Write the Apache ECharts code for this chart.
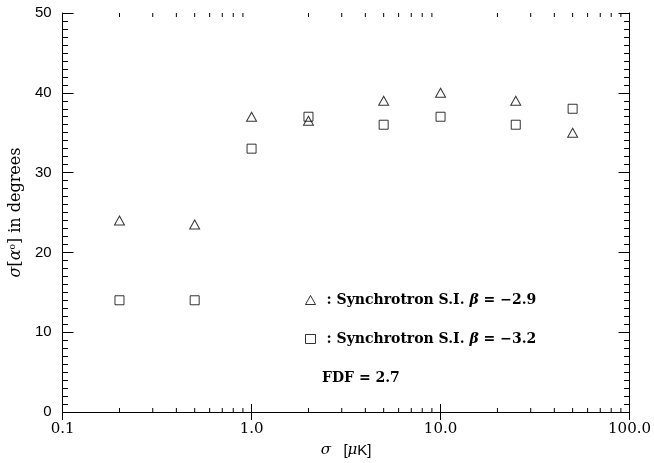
<!DOCTYPE html>
<html>
<head>
<meta charset="utf-8">
<script src="https://cdn.jsdelivr.net/npm/echarts@6/dist/echarts.min.js"></script>
<style>html,body{margin:0;padding:0;background:#fff;}#c{width:654px;height:463px;}</style>
</head>
<body>
<div id="c"></div>
<script>
// ---- data ----
const sigmaNoise = [0.2, 0.5, 1, 2, 5, 10, 25, 50];
const synchBeta29 = [24, 23.5, 37, 36.5, 39, 40, 39, 35];
const synchBeta32 = [14, 14, 33, 37, 36, 37, 36, 38];
const xMinorTicks = [0.2,0.3,0.4,0.5,0.6,0.7,0.8,0.9, 2,3,4,5,6,7,8,9, 20,30,40,50,60,70,80,90];
const xTickLabels = {'0.1':'0.1','1':'1.0','10':'10.0','100':'100.0'};
const yMin = 0, yMax = 50, yStep = 10;
const legendNames = [': Synchrotron S.I. {b|β} = \u22122.9', ': Synchrotron S.I. {b|β} = \u22123.2'];
const fdfText = 'FDF = 2.7';

const chart = echarts.init(document.getElementById('c'), null, {renderer:'canvas'});
const serif = 'DejaVu Serif';
const sans = 'Liberation Sans';
const line = {show:true, lineStyle:{color:'#000', width:1}};

function xAxisBase(pos, showLabel){
  return {
    type:'log', logBase:10, min:0.1, max:100, position:pos,
    axisLine: line,
    axisTick:{show:true, inside:true, length:8, lineStyle:{color:'#000'}},
    minorTick:{show:false},
    splitLine:{show:false},
    axisLabel:{show:showLabel, margin:10, color:'#000', fontFamily:serif, fontSize:15,
      formatter: v => xTickLabels[String(+v.toPrecision(6))] || ''}
  };
}
function yAxisBase(pos, showLabel){
  return {
    type:'value', min:yMin, max:yMax, interval:yStep, position:pos,
    axisLine: line,
    axisTick:{show:true, inside:true, length:11, lineStyle:{color:'#000'}},
    minorTick:{show:true, splitNumber:10, length:5.5, lineStyle:{color:'#000'}},
    splitLine:{show:false},
    axisLabel:{show:showLabel, margin:11, color:'#000', fontFamily:sans, fontSize:15}
  };
}

const xb = xAxisBase('bottom', true);
xb.name = '{i|σ}   [{m|μ}K]';
xb.nameLocation = 'middle';
xb.nameGap = 31;
xb.nameTextStyle = {color:'#000', fontFamily:sans, fontSize:15,
  rich:{i:{fontFamily:serif, fontStyle:'italic', fontSize:15, color:'#000'}, m:{fontFamily:serif, fontStyle:'italic', fontSize:15, color:'#000'}}};
const xt = xAxisBase('top', false);

const yl = yAxisBase('left', true);
yl.name = '{i|σ}[{i|α}{s|o}] in degrees';
yl.nameLocation = 'middle';
yl.nameGap = 30;
yl.nameTextStyle = {color:'#000', fontFamily:serif, fontSize:16,
  rich:{i:{fontFamily:serif, fontStyle:'italic', fontSize:16, color:'#000'}, s:{fontFamily:serif, fontSize:9, verticalAlign:'top', color:'#000'}}};
const yr = yAxisBase('right', false);

const option = {
  animation:false,
  backgroundColor:'#fff',
  grid:{left:56, right:22, top:13, bottom:43, containLabel:false},
  xAxis:[xb, xt],
  yAxis:[yl, yr],
  legend:{
    left:300, top:288, orient:'vertical', itemGap:25, itemWidth:10, itemHeight:9,
    selectedMode:false,
    itemStyle:{borderWidth:1, borderColor:'#000', color:'rgba(255,255,255,0)'},
    textStyle:{color:'#000', fontFamily:serif, fontSize:14, fontWeight:'bold', padding:[0,0,0,6],
      rich:{b:{fontFamily:serif, fontStyle:'italic', fontWeight:'bold', fontSize:14, color:'#000'}}},
    data:[{name:legendNames[0], icon:'triangle'}, {name:legendNames[1], icon:'rect'}]
  },
  graphic:[{type:'text', left:322, top:371, style:{text:fdfText, fill:'#000', font:'bold 14px "DejaVu Serif"'}}],
  series:[
    {name:legendNames[0], type:'scatter', symbol:'triangle', symbolSize:[10,9],
      itemStyle:{color:'rgba(255,255,255,0)', borderColor:'#000', borderWidth:1},
      data: sigmaNoise.map((x,i)=>[x, synchBeta29[i]])},
    {name:legendNames[1], type:'scatter', symbol:'rect', symbolSize:9,
      itemStyle:{color:'rgba(255,255,255,0)', borderColor:'#000', borderWidth:1},
      data: sigmaNoise.map((x,i)=>[x, synchBeta32[i]])},
    {type:'custom', silent:true, clip:false, xAxisIndex:0, yAxisIndex:0,
      data: xMinorTicks.map(v=>[v]),
      renderItem:(params, api)=>{
        const v = api.value(0);
        const pb = api.coord([v, yMin]);
        const pt = api.coord([v, yMax]);
        return {type:'group', children:[
          {type:'line', shape:{x1:pb[0], y1:pb[1], x2:pb[0], y2:pb[1]-4}, style:{stroke:'#000', lineWidth:1}},
          {type:'line', shape:{x1:pt[0], y1:pt[1], x2:pt[0], y2:pt[1]+4}, style:{stroke:'#000', lineWidth:1}}
        ]};
      }}
  ]
};
chart.setOption(option);
</script>
</body>
</html>
